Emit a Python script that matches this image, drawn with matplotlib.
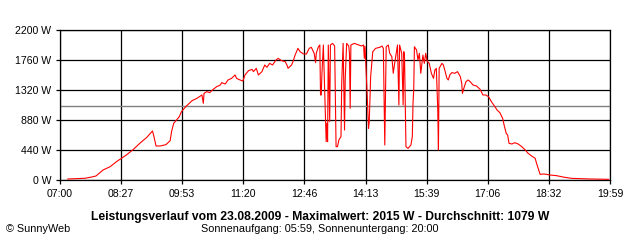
import matplotlib
matplotlib.use("Agg")
import matplotlib.pyplot as plt
import numpy as np

# minutes after 07:00 and power in W
minutes = [11, 35, 45, 51, 61, 71, 80, 87, 94, 104, 113, 123, 131, 133, 136, 142, 150, 156, 158, 161,
           165, 169, 172, 179, 187, 194, 201, 203, 204, 208, 212, 217, 222, 227, 229, 234, 238, 243, 248, 250,
           255, 259, 262, 267, 272, 274, 278, 281, 286, 290, 293, 297, 301, 306, 309, 314, 319, 322, 323, 328,
           330, 333, 337, 340, 345, 349, 353, 356, 360, 362, 363, 366, 368, 369, 370, 371, 373, 375, 377, 378,
           379, 380, 382, 383, 386, 389, 390, 391, 393, 395, 398, 399, 401, 403, 404, 406, 409, 410, 411, 412,
           417, 423, 427, 430, 431, 432, 433, 435, 437, 438, 440, 443, 447, 453, 456, 458, 459, 460, 462, 465,
           467, 470, 472, 474, 477, 478, 480, 481, 484, 486, 487, 488, 490, 493, 497, 499, 500, 501, 502, 505,
           507, 509, 511, 514, 516, 518, 520, 523, 526, 529, 531, 533, 535, 536, 537, 541, 543, 545, 548, 550,
           552, 555, 559, 563, 567, 569, 570, 572, 575, 578, 581, 585, 590, 595, 599, 603, 607, 611, 616, 619,
           623, 627, 629, 632, 634, 636, 640, 644, 649, 654, 659, 663, 668, 673, 675, 678, 680, 685, 689, 694,
           703, 715, 725, 751, 777]
watts = [15, 25, 44, 59, 147, 195, 269, 318, 367, 450, 538, 626, 719, 640, 499, 499, 518, 577, 709, 831,
         880, 929, 1002, 1085, 1163, 1198, 1247, 1125, 1270, 1296, 1281, 1330, 1369, 1393, 1428, 1408, 1467, 1491, 1540, 1491,
         1467, 1452, 1540, 1603, 1623, 1589, 1638, 1540, 1589, 1687, 1653, 1711, 1687, 1760, 1784, 1750, 1736, 1672, 1638, 1687,
         1736, 1833, 1931, 1882, 1848, 1848, 1931, 1946, 1858, 1721, 1858, 1955, 1980, 1247, 1247, 1565, 1980, 1271, 562, 831,
         562, 1980, 856, 1980, 2004, 1965, 1222, 489, 489, 587, 636, 1418, 2004, 733, 1491, 2004, 1965, 1858, 1051, 1980,
         2004, 1980, 1965, 1980, 1784, 1960, 1736, 1271, 758, 850, 1516, 1882, 1931, 1946, 1965, 1931, 1222, 513, 1955, 1980,
         1858, 1809, 1565, 1711, 1907, 1980, 1100, 1980, 1858, 1100, 1882, 1784, 489, 464, 513, 636, 1125, 1320, 1955, 1907,
         1760, 1858, 1565, 1833, 1711, 1858, 1740, 1711, 1565, 1491, 1613, 1638, 1051, 440, 1638, 1711, 1687, 1613, 1491, 1467,
         1540, 1575, 1565, 1589, 1516, 1418, 1271, 1345, 1442, 1467, 1442, 1393, 1379, 1330, 1247, 1247, 1222, 1149, 1075, 1027,
         987, 904, 807, 684, 660, 538, 528, 547, 528, 489, 440, 391, 352, 318, 244, 147, 83, 88, 83, 73,
         64, 39, 24, 15, 10]

average = 1079
x_labels = ["07:00", "08:27", "09:53", "11:20", "12:46", "14:13", "15:39", "17:06", "18:32", "19:59"]
y_values = [0, 440, 880, 1320, 1760, 2200]
y_labels = ["0 W", "440 W", "880 W", "1320 W", "1760 W", "2200 W"]
title = "Leistungsverlauf vom 23.08.2009 - Maximalwert: 2015 W - Durchschnitt: 1079 W"
subtitle = "Sonnenaufgang: 05:59, Sonnenuntergang: 20:00"
credit = "\u00a9 SunnyWeb"

plt.rcParams['font.family'] = ['Liberation Sans', 'DejaVu Sans']

fig = plt.figure(figsize=(6.4, 2.4), dpi=100)
ax = fig.add_axes([60/640, 1 - 180/240, 550/640, 150/240])

total = 779
ax.set_xlim(0, total)
ax.set_ylim(0, 2200)
xt = np.linspace(0, total, len(x_labels))
ax.set_xticks(xt)
ax.set_xticklabels(x_labels)
ax.set_yticks(y_values)
ax.set_yticklabels(y_labels)
ax.grid(True, color='black', linewidth=0.9)
ax.set_axisbelow(True)
for s in ax.spines.values():
    s.set_color('black')
    s.set_linewidth(0.9)
ax.tick_params(axis='both', length=3.2, width=0.9, color='black', labelsize=7.6, pad=3)

ax.axhline(average, color='#808080', linewidth=1.0, zorder=2)
ax.plot(minutes, watts, color='#ff0000', linewidth=0.8, zorder=3)

fig.text(0.5, 1 - 217/240, title, ha='center', va='center', fontsize=8.7, fontweight='bold')
fig.text(0.5, 1 - 229/240, subtitle, ha='center', va='center', fontsize=7.8)
fig.text(6/640, 1 - 229/240, credit, ha='left', va='center', fontsize=7.8)

fig.savefig("out.png", dpi=100)
